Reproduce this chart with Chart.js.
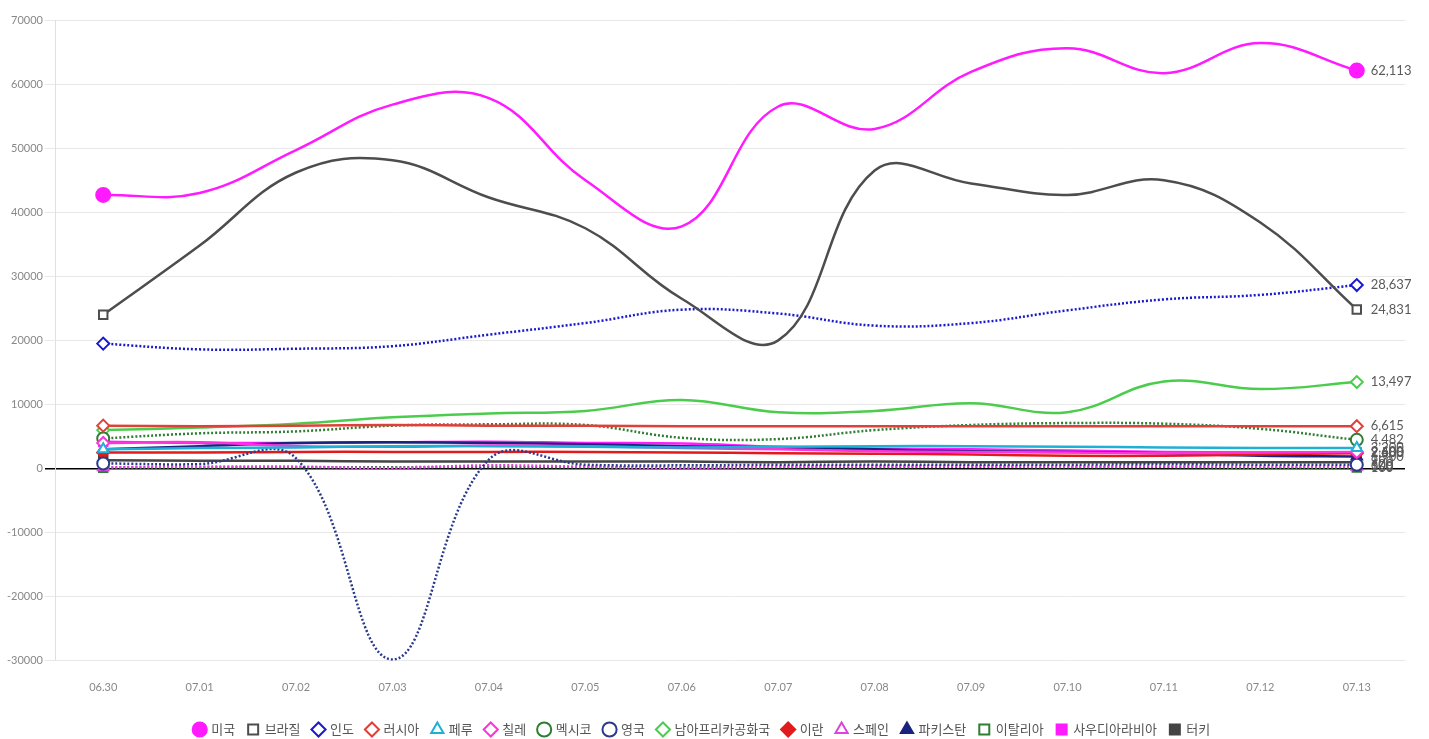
<!DOCTYPE html>
<html>
<head>
<meta charset="utf-8">
<script src="https://cdn.jsdelivr.net/npm/chart.js@4"></script>
<style>
  body { margin: 0; background: #fff; }
  #wrap { width: 1429px; height: 739px; }
</style>
</head>
<body>
<div id="wrap"><canvas id="chart"></canvas></div>
<script>
const dates = ['06.30', '07.01', '07.02', '07.03', '07.04', '07.05', '07.06', '07.07', '07.08', '07.09', '07.10', '07.11', '07.12', '07.13'];
const yTicks = [70000, 60000, 50000, 40000, 30000, 20000, 10000, 0, -10000, -20000, -30000];

const usa = [42700, 43000, 49700, 56800, 57800, 45000, 37800, 56500, 53000, 61900, 65600, 61700, 66400, 62113];
const brazil = [24000, 34800, 46200, 48100, 42300, 37500, 26500, 20000, 46500, 44500, 42700, 45000, 38400, 24831];
const india = [19500, 18600, 18700, 19100, 20900, 22700, 24800, 24200, 22300, 22700, 24700, 26400, 27100, 28637];
const russia = [6700, 6600, 6700, 6800, 6700, 6700, 6600, 6600, 6600, 6600, 6600, 6600, 6600, 6615];
const peru = [3000, 3200, 3300, 3500, 3500, 3400, 3300, 3400, 3500, 3500, 3400, 3300, 3200, 3200];
const chile = [4000, 4100, 3500, 3400, 3600, 3500, 3200, 3000, 2700, 2600, 2500, 2400, 2500, 2600];
const mexico = [4700, 5500, 5800, 6700, 6900, 6800, 4800, 4600, 6000, 6800, 7100, 7000, 6200, 4482];
const uk = [800, 700, 1600, -29800, 1400, 600, 500, 600, 600, 600, 600, 700, 600, 600];
const southAfrica = [6000, 6400, 7000, 8000, 8600, 9000, 10700, 8800, 9000, 10200, 8800, 13600, 12400, 13497];
const iran = [2500, 2500, 2600, 2600, 2600, 2600, 2500, 2400, 2300, 2200, 2000, 2000, 2200, 2400];
const spain = [200, 300, 300, 100, 500, 300, 100, 300, 400, 400, 300, 400, 300, 300];
const pakistan = [3000, 3500, 4000, 4100, 4000, 3800, 3500, 3300, 3000, 2700, 2600, 2400, 2000, 1900];
const italy = [140, 180, 200, 220, 230, 190, 140, 190, 190, 270, 190, 230, 110, 160];
const saudi = [4200, 4000, 4000, 4100, 4200, 4000, 3900, 3400, 3100, 3000, 2800, 2600, 2500, 2500];
const turkey = [1300, 1200, 1200, 1100, 1100, 1100, 1100, 1000, 1100, 1000, 1000, 1000, 1000, 990];

function series(label, data, color, style, filled, dotted) {
    return {
        label: label,
        data: data,
        borderColor: color,
        backgroundColor: filled ? color : '#ffffff',
        pointBackgroundColor: filled ? color : '#ffffff',
        pointBorderColor: color,
        pointStyle: style,
        borderWidth: 2.5,
        pointBorderWidth: 2,
        borderDash: dotted ? [2, 2] : [],
        tension: 0.4,
        pointRadius: (ctx) => (ctx.dataIndex === 0 || ctx.dataIndex === dates.length - 1) ? (filled && style === 'circle' ? 7 : 6) : 0,
        pointHoverRadius: 0
    };
}

const datasets = [
    series('미국', usa, '#ff1aff', 'circle', true, false),
    series('브라질', brazil, '#4d4d4d', 'rect', false, false),
    series('인도', india, '#1a1acc', 'rectRot', false, true),
    series('러시아', russia, '#e0403a', 'rectRot', false, false),
    series('페루', peru, '#1fb0d6', 'triangle', false, false),
    series('칠레', chile, '#ff33dd', 'rectRot', false, false),
    series('멕시코', mexico, '#2e7d32', 'circle', false, true),
    series('영국', uk, '#2a3a8a', 'circle', false, true),
    series('남아프리카공화국', southAfrica, '#4ccc4c', 'rectRot', false, false),
    series('이란', iran, '#e31a1c', 'rectRot', true, false),
    series('스페인', spain, '#dd44dd', 'triangle', false, true),
    series('파키스탄', pakistan, '#1a237e', 'triangle', true, false),
    series('이탈리아', italy, '#2e7d32', 'rect', false, true),
    series('사우디아라비아', saudi, '#ff1aff', 'rect', true, false),
    series('터키', turkey, '#444444', 'rect', true, false)
];

// value labels next to the last point of each line
const endLabels = {
    id: 'endLabels',
    afterDatasetsDraw(chart) {
        const ctx = chart.ctx;
        ctx.save();
        ctx.font = '13px Lato';
        ctx.fillStyle = '#5a5a5a';
        ctx.textAlign = 'left';
        ctx.textBaseline = 'middle';
        chart.data.datasets.forEach((ds, i) => {
            const meta = chart.getDatasetMeta(i);
            const pt = meta.data[meta.data.length - 1];
            const v = ds.data[ds.data.length - 1];
            ctx.fillText(v.toLocaleString('en-US'), pt.x + 14, pt.y);
        });
        ctx.restore();
    }
};

new Chart(document.getElementById('chart'), {
    type: 'line',
    data: { labels: dates, datasets: datasets },
    plugins: [endLabels],
    options: {
        responsive: true,
        maintainAspectRatio: false,
        animation: false,
        layout: { padding: { top: 20, right: 24, left: 0, bottom: -7 } },
        plugins: {
            legend: {
                position: 'bottom',
                labels: {
                    usePointStyle: true,
                    boxWidth: 10,
                    boxHeight: 10,
                    padding: 13,
                    color: '#555',
                    font: { family: "'Noto Sans CJK KR'", size: 13 }
                }
            },
            tooltip: { enabled: false }
        },
        scales: {
            x: {
                offset: true,
                grid: { display: false },
                border: { display: false },
                afterFit: (scale) => { scale.height += 4; },
                ticks: { color: '#888', font: { family: 'Lato', size: 11 }, padding: 12 }
            },
            y: {
                min: -30000,
                max: 70000,
                afterBuildTicks: (scale) => { scale.ticks = yTicks.map(v => ({ value: v })); },
                afterFit: (scale) => { scale.width = 55; },
                grid: {
                    color: (c) => c.tick && c.tick.value === 0 ? '#000' : '#e8e8e8',
                    lineWidth: (c) => c.tick && c.tick.value === 0 ? 1.5 : 1,
                    tickLength: 10
                },
                border: { color: '#e0e0e0' },
                ticks: {
                    color: '#888',
                    font: { family: 'Lato', size: 11 },
                    padding: 2,
                    callback: (v) => String(v)
                }
            }
        }
    }
});
</script>
</body>
</html>
